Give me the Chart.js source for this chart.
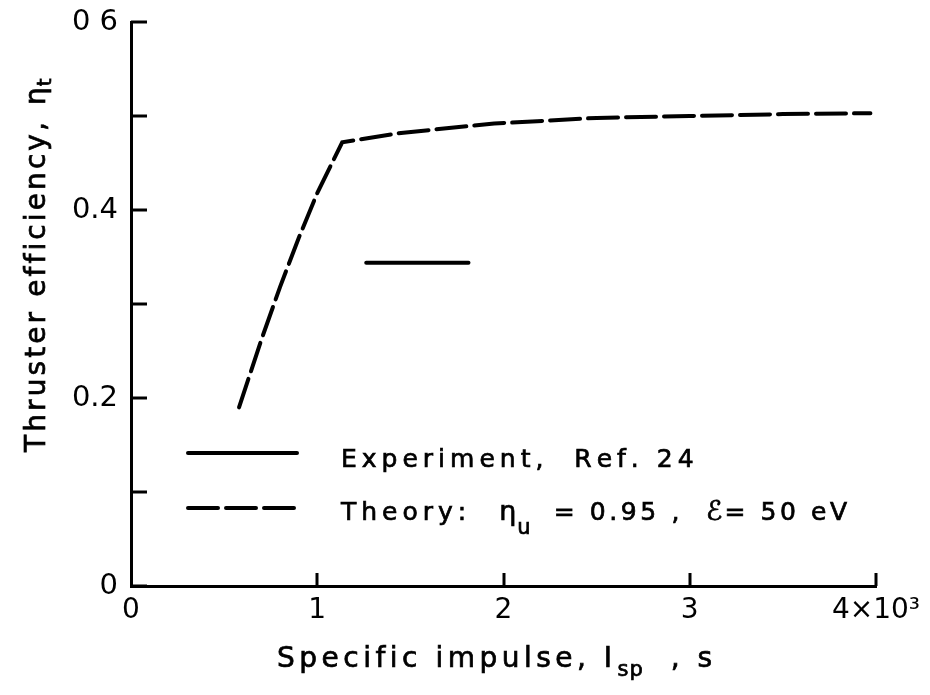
<!DOCTYPE html>
<html>
<head>
<meta charset="utf-8">
<script src="https://cdn.jsdelivr.net/npm/chart.js@4.4.1/dist/chart.umd.min.js"></script>
<style>
  html, body { margin: 0; padding: 0; background: #fff; }
  #wrap { width: 930px; height: 695px; }
</style>
</head>
<body>
<div id="wrap"><canvas id="effChart" width="930" height="695"></canvas></div>
<script>
// theory curve: specific impulse (s) vs thruster efficiency
const ispTheory = [580, 700, 800, 900, 1000, 1134, 1450, 1950, 2500, 3000, 3500, 3970];
const etaTheory = [0.19, 0.262, 0.318, 0.37, 0.418, 0.472, 0.482, 0.492, 0.498, 0.500, 0.502, 0.503];

// experiment, Ref. 24
const ispExp = [1263, 1812];
const etaExp = [0.344, 0.344];

const xTickValues = [0, 1000, 2000, 3000, 4000];
const xTickLabels = ['0', '1', '2', '3', '4×10³'];
const yTickValues = [0, 0.1, 0.2, 0.3, 0.4, 0.5, 0.6];
const yTickLabels = ['0', '', '0.2', '', '0.4', '', '0 6'];

const FONT = '"DejaVu Sans", sans-serif';

function toPoints(xs, ys) {
    return xs.map((x, i) => ({ x: x, y: ys[i] }));
}

// draws text one char at a time so the letters can be spread out,
// with a thin outline to thicken the strokes a little
function spaced(ctx, text, x, y, gap) {
    ctx.lineWidth = 0.7;
    ctx.strokeStyle = '#000';
    for (const ch of text) {
        ctx.fillText(ch, x, y);
        ctx.strokeText(ch, x, y);
        x += ctx.measureText(ch).width + gap;
    }
    return x;
}

// tick marks point into the plot
const innerTicks = {
    id: 'innerTicks',
    afterDraw(chart) {
        const ctx = chart.ctx;
        const xs = chart.scales.x, ys = chart.scales.y;
        const area = chart.chartArea;
        ctx.save();
        ctx.strokeStyle = '#000';
        ctx.lineWidth = 3;
        yTickValues.forEach(v => {
            const py = Math.round(ys.getPixelForValue(v));
            ctx.beginPath();
            ctx.moveTo(area.left, py);
            ctx.lineTo(area.left + 16, py);
            ctx.stroke();
        });
        xTickValues.slice(1).forEach(v => {
            const px = Math.round(xs.getPixelForValue(v));
            ctx.beginPath();
            ctx.moveTo(px, area.bottom);
            ctx.lineTo(px, area.bottom - 13);
            ctx.stroke();
        });
        ctx.restore();
    }
};

// axis titles with subscripts
const axisTitles = {
    id: 'axisTitles',
    afterDraw(chart) {
        const ctx = chart.ctx;
        ctx.save();
        ctx.fillStyle = '#000';
        ctx.textBaseline = 'alphabetic';

        // x title
        ctx.font = '28px ' + FONT;
        let x = spaced(ctx, 'Specific impulse, I', 277, 667, 4.5);
        ctx.font = '21px ' + FONT;
        x = spaced(ctx, 'sp', x + 1, 676, 1);
        ctx.font = '28px ' + FONT;
        spaced(ctx, '  , s', x, 667, 4.5);

        // y title, rotated
        ctx.translate(45, 452);
        ctx.rotate(-Math.PI / 2);
        ctx.font = '28px ' + FONT;
        let t = spaced(ctx, 'Thruster efficiency,', 0, 0, 3.1);
        t = spaced(ctx, ' η', t + 4, 0, 1);
        ctx.font = '20px ' + FONT;
        spaced(ctx, 't', t, 6, 0);
        ctx.restore();
    }
};

// legend box inside the plot
const legendBox = {
    id: 'legendBox',
    afterDraw(chart) {
        const ctx = chart.ctx;
        const area = chart.chartArea;
        const x0 = area.left + 57, x1 = area.left + 166;
        const tx = area.left + 210;
        const rows = [453, 508];
        ctx.save();
        chart.data.datasets.forEach((ds, i) => {
            ctx.strokeStyle = ds.borderColor;
            ctx.lineWidth = ds.borderWidth;
            ctx.lineCap = 'round';
            ctx.setLineDash(ds.borderDash || []);
            ctx.beginPath();
            ctx.moveTo(x0, rows[i]);
            ctx.lineTo(x1, rows[i]);
            ctx.stroke();
        });
        ctx.setLineDash([]);
        ctx.fillStyle = '#000';
        ctx.textBaseline = 'alphabetic';
        ctx.font = '25px ' + FONT;
        spaced(ctx, 'Experiment,  Ref. 24', tx, 467, 5);

        let x = spaced(ctx, 'Theory:  ', tx, 520, 5);
        ctx.font = '27px ' + FONT;
        x = spaced(ctx, 'η', x + 2, 520, 0);
        ctx.font = '21px ' + FONT;
        x = spaced(ctx, 'u', x + 1, 534, 0);
        ctx.font = '25px ' + FONT;
        x = spaced(ctx, '  = 0.95 ,  ', x, 520, 3.6);
        ctx.font = 'italic 27px ' + FONT;
        x = spaced(ctx, 'ℰ', x, 520, 0);
        ctx.font = '25px ' + FONT;
        spaced(ctx, '= 50 eV', x + 2, 520, 3.6);
        ctx.restore();
    }
};

new Chart(document.getElementById('effChart'), {
    type: 'scatter',
    data: {
        datasets: [
            {
                label: 'Experiment, Ref. 24',
                data: toPoints(ispExp, etaExp),
                showLine: true,
                borderColor: '#000',
                borderWidth: 4,
                borderCapStyle: 'round',
                pointRadius: 0
            },
            {
                label: 'Theory',
                data: toPoints(ispTheory, etaTheory),
                showLine: true,
                borderColor: '#000',
                borderWidth: 4,
                borderDash: [30, 8],
                borderCapStyle: 'round',
                tension: 0,
                pointRadius: 0
            }
        ]
    },
    options: {
        responsive: false,
        animation: false,
        events: [],
        layout: { padding: { top: 22, right: 54, left: 0, bottom: 0 } },
        plugins: {
            legend: { display: false },
            tooltip: { enabled: false }
        },
        scales: {
            x: {
                type: 'linear',
                min: 0,
                max: 4000,
                afterBuildTicks: s => { s.ticks = xTickValues.map(v => ({ value: v })); },
                afterFit: s => {
                    s.height = 109;
                    s.paddingLeft = 0;
                    s.paddingRight = 0;
                },
                grid: { display: false, drawTicks: false },
                border: { display: true, color: '#000', width: 3 },
                ticks: {
                    color: '#000',
                    padding: 8,
                    maxRotation: 0,
                    autoSkip: false,
                    font: { family: FONT, size: 28 },
                    callback: (v, i) => xTickLabels[i]
                }
            },
            y: {
                type: 'linear',
                min: 0,
                max: 0.6,
                afterBuildTicks: s => { s.ticks = yTickValues.map(v => ({ value: v })); },
                afterFit: s => {
                    s.width = 131;
                    s.paddingTop = 0;
                    s.paddingBottom = 0;
                },
                grid: { display: false, drawTicks: false },
                border: { display: true, color: '#000', width: 3 },
                ticks: {
                    color: '#000',
                    padding: 13,
                    autoSkip: false,
                    font: { family: FONT, size: 29 },
                    callback: (v, i) => yTickLabels[i]
                }
            }
        }
    },
    plugins: [innerTicks, axisTitles, legendBox]
});
</script>
</body>
</html>
